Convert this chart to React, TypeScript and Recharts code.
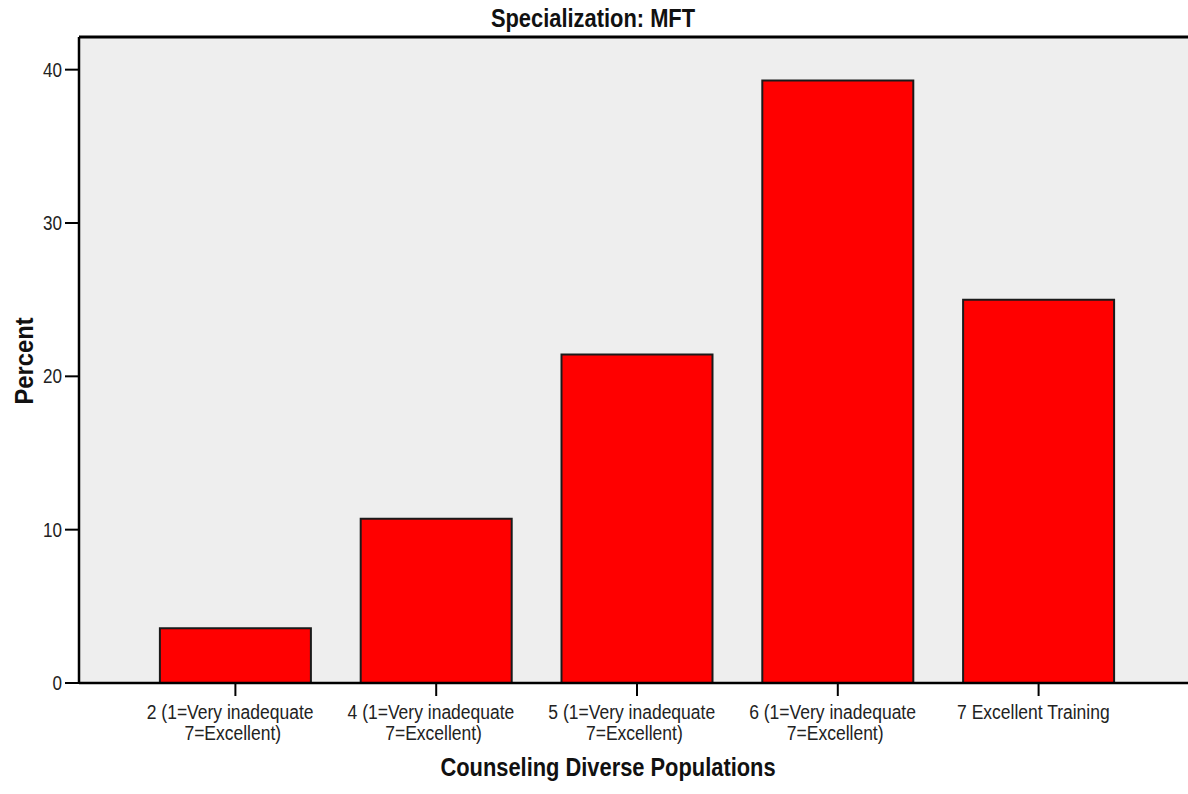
import React from "react";
import {
  BarChart,
  Bar,
  XAxis,
  YAxis,
  CartesianGrid,
  ReferenceLine,
  Label,
} from "recharts";

const categories = ["2", "4", "5", "6", "7"];
const tickLabels = [
  ["2 (1=Very inadequate", "7=Excellent)"],
  ["4 (1=Very inadequate", "7=Excellent)"],
  ["5 (1=Very inadequate", "7=Excellent)"],
  ["6 (1=Very inadequate", "7=Excellent)"],
  ["7 Excellent Training"],
];
const percents = [3.57, 10.71, 21.43, 39.29, 25.0];
const yTicks = [0, 10, 20, 30, 40];
const yMax = 42.13;

const data = categories.map((c, i) => ({ cat: c, pct: percents[i] }));

// no narrow font installed, so squeeze the regular one a bit
const FONT = "'Liberation Sans', Arial, sans-serif";
const SQUEEZE = 0.875;

const XTick = (props: any) => {
  const { x, y, index } = props;
  const lines = tickLabels[index] || [];
  return (
    <g transform={`translate(${x},${y}) scale(${SQUEEZE},1)`}>
      <text textAnchor="middle" fontFamily={FONT} fontSize={20} fill="#222">
        {lines.map((l, i) => (
          <tspan key={i} x={i === 0 ? -6 : -3} y={i === 0 ? 21 : 42}>
            {l}
          </tspan>
        ))}
      </text>
    </g>
  );
};

const YTick = (props: any) => {
  const { x, y, payload } = props;
  return (
    <text
      transform={`translate(${x},${y}) scale(${SQUEEZE},1)`}
      textAnchor="end"
      dy="0.36em"
      fontFamily={FONT}
      fontSize={19.5}
      fill="#222"
    >
      {payload.value}
    </text>
  );
};

const App = () => {
  return (
    <div style={{ position: "absolute", left: 0, top: 0, width: 1188, height: 794, background: "#fff" }}>
      <div
        style={{
          position: "absolute",
          left: 0,
          width: 1186,
          top: 3,
          textAlign: "center",
          fontFamily: FONT,
          fontWeight: "bold",
          fontSize: 25,
          color: "#111",
          lineHeight: "30px",
          transform: `scaleX(${SQUEEZE})`,
        }}
      >
        Specialization: MFT
      </div>
      <BarChart
        width={1188}
        height={794}
        data={data}
        margin={{ top: 37, right: 0, bottom: 0, left: 0 }}
        barCategoryGap="12.4%"
      >
        <CartesianGrid fill="#eeeeee" horizontal={false} vertical={false} />
        <XAxis
          dataKey="cat"
          height={111}
          padding={{ left: 56, right: 49 }}
          axisLine={{ stroke: "#000", strokeWidth: 2.5 }}
          tickLine={{ stroke: "#000", strokeWidth: 2 }}
          tickSize={13}
          tick={<XTick />}
          interval={0}
        >
          <Label
            content={() => (
              <text
                transform={`translate(608,776) scale(${SQUEEZE},1)`}
                textAnchor="middle"
                fontFamily={FONT}
                fontWeight="bold"
                fontSize={25}
                fill="#111"
              >
                Counseling Diverse Populations
              </text>
            )}
          />
        </XAxis>
        <YAxis
          width={79}
          domain={[0, yMax]}
          ticks={yTicks}
          allowDataOverflow
          axisLine={{ stroke: "#000", strokeWidth: 2.5 }}
          tickLine={{ stroke: "#000", strokeWidth: 2 }}
          tickSize={14}
          tickMargin={3}
          tick={<YTick />}
        >
          <Label
            content={(p: any) => {
              const vb = p.viewBox || { x: 0, y: 37, height: 646 };
              const cy = vb.y + vb.height / 2 + 1;
              return (
                <text
                  transform={`translate(33,${cy}) rotate(-90) scale(0.95,1)`}
                  textAnchor="middle"
                  fontFamily={FONT}
                  fontWeight="bold"
                  fontSize={25}
                  fill="#111"
                >
                  Percent
                </text>
              );
            }}
          />
        </YAxis>
        <ReferenceLine y={yMax} stroke="#000" strokeWidth={3} />
        <Bar
          dataKey="pct"
          fill="#ff0000"
          stroke="#1a1a1a"
          strokeWidth={2}
          isAnimationActive={false}
        />
      </BarChart>
    </div>
  );
};

export default App;
